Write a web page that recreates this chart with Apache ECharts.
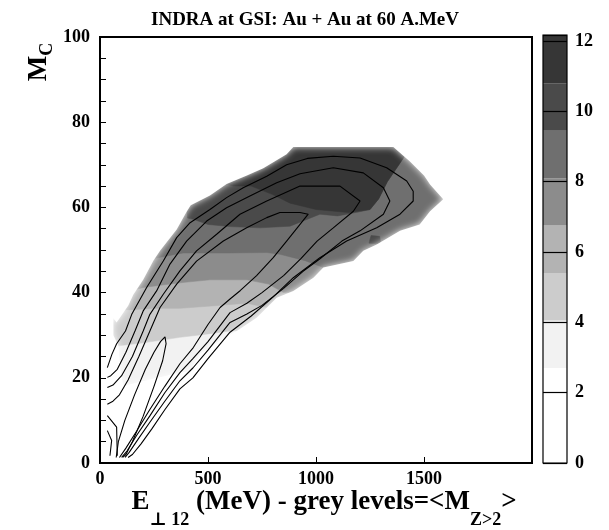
<!DOCTYPE html>
<html><head><meta charset="utf-8">
<script src="https://cdn.jsdelivr.net/npm/echarts@6/dist/echarts.min.js"></script>
<style>html,body{margin:0;padding:0;background:#fff}#c{width:609px;height:530px}</style>
</head><body><div id="c"></div>
<script>
// ---------- data (E in MeV, Mc) ----------
const titleText = 'INDRA at GSI: Au + Au at 60 A.MeV';
const xTickLabels = [0, 500, 1000, 1500];
const yTickLabels = [0, 20, 40, 60, 80, 100];
const cbTickLabels = [0, 2, 4, 6, 8, 10, 12];

// colour levels of <M Z>2>
const levelEdges = [0, 1.35, 2.7, 4.05, 5.4, 6.75, 8.1, 9.45, 10.8, 12.17];
const levelColors = ['#ffffff', '#ffffff', '#f2f2f2', '#cccccc', '#b3b3b3', '#8c8c8c', '#6f6f6f', '#4a4a4a', '#363636'];

// outer edge of the populated (grey) region
const envelope = [[62,34],[77,33],[131,37],[154,39.5],[200,43],[247,47.5],[278,49.8],[355,54.8],[401,59],[420,60.5],[509,62.8],[586,65.5],[680,67.5],[756,69.2],[864,72.5],[895,74.2],[1358,74.2],[1435,70.8],[1500,67.5],[1528,65.4],[1589,61.9],[1528,59.1],[1480,56],[1389,54.5],[1281,51.3],[1219,49.8],[1173,47.4],[1034,45.9],[988,43.5],[895,40.4],[818,38.8],[725,34.1],[633,31.0],[556,28.7],[463,25.6],[417,21.5],[370,21.2],[250,19.8],[108,18.1],[93,22],[85,27.5],[62,30]];
// lower edges of the grey levels 4.05, 5.4, 6.75, 8.1
const edgeLevel3 = [[0,27.3],[85,27.5],[200,28.2],[370,29.5],[500,30.3],[602,31],[2000,31]];
const edgeLevel4 = [[0,35.8],[140,36],[262,36.3],[370,36.3],[500,36.8],[679,37.5],[771,36.5],[2000,36.5]];
const edgeLevel5 = [[0,40.3],[150,40.5],[200,41.2],[370,42.3],[509,43],[680,43],[780,42],[850,40],[2000,40]];
const edgeLevel6 = [[0,47.5],[250,48],[309,48.6],[385,49.3],[600,49.3],[772,49.4],[833,49],[950,47.5],[1034,45.9],[2000,45.9]];
// closed areas of the two darkest levels
const areaLevel7 = [[405,57.5],[395,63],[500,72],[800,80],[1340,80],[1410,72],[1390,70.5],[1330,66],[1290,62],[1250,59.5],[1204,59],[1100,58],[1018,58.4],[880,55.6],[741,55.2],[600,55.5],[500,56],[432,57.2]];
const areaLevel7b = [[1245,51.6],[1300,51.4],[1295,53.2],[1255,53.4]];
const areaLevel8 = [[586,65.4],[590,80],[1340,80],[1410,72],[1390,70.5],[1330,66],[1290,62],[1250,59.5],[1150,58.8],[1000,59.5],[880,61],[800,63],[700,65],[620,65]];

// iso-count contour lines
const contour1 = [[75,1.3],[85,5],[115,10],[160,16],[210,22],[250,26],[280,28.5],[301,29.6],[306,28],[290,24],[250,18],[200,11],[150,5],[120,2],[105,1.3]];
const contour2 = [[34,13.8],[60,14.5],[90,16],[130,19.5],[180,25],[231,31],[278,36.5],[355,42],[447,47.4],[571,52.1],[679,55.2],[772,57.6],[833,58.8],[926,58.8],[964,58.4],[926,56],[864,52.1],[802,48.2],[725,44],[650,40.5],[602,38.5],[556,36.5],[500,32.5],[432,27.1],[370,23.3],[300,18],[230,12.5],[170,7.5],[120,3.5],[90,1.3]];
const contour3 = [[34,17.7],[60,18.3],[100,20.5],[150,25],[200,31],[231,34.9],[293,39.6],[370,45.1],[447,49.8],[540,53.7],[648,58.4],[772,61.5],[926,65],[1111,65],[1204,61.5],[1173,59.1],[1080,55.2],[1005,52.1],[930,48],[850,44],[750,40],[680,37.5],[602,35.3],[500,28.5],[430,24.5],[370,21.2],[300,16.5],[230,11],[170,6.5],[125,2.8],[100,1.3]];
const contour4 = [[34,20.1],[50,20.5],[80,22],[120,26],[162,31],[200,35.7],[262,40.4],[324,46.7],[401,52.1],[494,56.8],[586,59.9],[694,62.7],[818,65.8],[926,67.9],[1080,69.3],[1219,68.1],[1312,64.6],[1342,61.5],[1312,58.4],[1204,54.5],[1120,52.1],[1020,48],[940,45],[850,41],[750,37],[680,35],[602,33],[500,26.5],[430,22.3],[370,19.3],[300,14.5],[230,9.5],[175,5.5],[135,2.5],[116,1.3]];
const contour5 = [[34,22.4],[55,25.5],[77,28],[118,31],[147,34.9],[216,41.2],[293,47.4],[355,52.9],[417,56.4],[509,59.5],[586,62.3],[663,64.6],[772,67.3],[864,70],[960,71.5],[1080,72],[1204,71.6],[1327,69.3],[1420,66.2],[1450,63.8],[1450,61.5],[1389,58.4],[1281,55.2],[1142,52.1],[1018,48.2],[895,43.5],[802,39],[700,34.5],[602,30.7],[500,24.5],[430,20],[370,17.4],[300,12.5],[240,8],[190,4.5],[150,2],[130,1.3]];
const contourA = [[34,11.1],[77,8.4],[80,1.7]];
const contourB = [[34,7.6],[54,5.3],[46,1.7]];

// ---------- chart ----------
const SERIF = '"Liberation Serif","DejaVu Serif","Times New Roman",serif';
const chart = echarts.init(document.getElementById('c'), null, {renderer: 'canvas'});

const layers = [
  {pts: envelope, color: levelColors[2]},
  {pts: edgeLevel3.concat([[2000,100],[0,100]]), color: levelColors[3]},
  {pts: edgeLevel4.concat([[2000,100],[0,100]]), color: levelColors[4]},
  {pts: edgeLevel5.concat([[2000,100],[0,100]]), color: levelColors[5]},
  {pts: edgeLevel6.concat([[2000,100],[0,100]]), color: levelColors[6]},
  {pts: areaLevel7, color: levelColors[7]},
  {pts: areaLevel7b, color: levelColors[7]},
  {pts: areaLevel8, color: levelColors[8]}
];

function toPx(api, pts) { return pts.map(p => api.coord(p)); }
function signedArea(p) {
  let s = 0;
  for (let i = 0; i < p.length; i++) { const a = p[i], b = p[(i + 1) % p.length]; s += a[0] * b[1] - b[0] * a[1]; }
  return s;
}

const lineCommon = {type: 'line', symbol: 'none', smooth: false, silent: true, z: 5,
  lineStyle: {color: '#000', width: 1.1}, xAxisIndex: 0, yAxisIndex: 0, animation: false};
const contours = [contour1, contour2, contour3, contour4, contour5, contourA, contourB];

const cbBands = levelColors.map((c, i) => [levelEdges[i], levelEdges[i + 1]]);
const labelFont = {color: '#000', fontFamily: SERIF, fontWeight: 'bold', fontSize: 18};
function richName(subLine) {
  return {
    b: {fontFamily: SERIF, fontWeight: 'bold', fontSize: 27, lineHeight: 27, verticalAlign: 'top', fill: '#000'},
    s: {fontFamily: SERIF, fontWeight: 'bold', fontSize: 18, lineHeight: subLine, verticalAlign: 'bottom', fill: '#000'}
  };
}

const option = {
  animation: false,
  backgroundColor: '#fff',
  title: {text: titleText, left: 300, top: 6, textAlign: 'center',
    textStyle: {fontFamily: SERIF, fontWeight: 'bold', fontSize: 19, color: '#000'}},
  grid: [
    {left: 100, top: 37, width: 432, height: 426, show: true, borderColor: '#000', borderWidth: 2,
      backgroundColor: 'transparent', z: 10, outerBoundsMode: 'none', containLabel: false},
    {left: 543, top: 35, width: 24, height: 428, show: true, borderColor: '#000', borderWidth: 1.2,
      backgroundColor: 'transparent', z: 10, outerBoundsMode: 'none', containLabel: false}
  ],
  xAxis: [
    {type: 'value', gridIndex: 0, min: 0, max: 2000, interval: 500, z: 10,
      axisLine: {show: true, lineStyle: {color: '#000', width: 2}},
      axisTick: {show: true, inside: true, length: 6, lineStyle: {color: '#000', width: 1}},
      splitLine: {show: false},
      axisLabel: Object.assign({show: true, margin: 7,
        formatter: v => xTickLabels.indexOf(v) >= 0 ? String(v) : ''}, labelFont)},
    {type: 'value', gridIndex: 1, min: 0, max: 1, show: false}
  ],
  yAxis: [
    {type: 'value', gridIndex: 0, min: 0, max: 100, interval: 20, z: 10,
      axisLine: {show: true, lineStyle: {color: '#000', width: 2}},
      axisTick: {show: true, inside: true, length: 6, lineStyle: {color: '#000', width: 1}},
      minorTick: {show: true, splitNumber: 4, length: 6, lineStyle: {color: '#000', width: 1}},
      splitLine: {show: false},
      axisLabel: Object.assign({show: true, margin: 10,
        formatter: v => yTickLabels.indexOf(v) >= 0 ? String(v) : ''}, labelFont)},
    {type: 'value', gridIndex: 1, min: 0, max: 12.17, interval: 2, position: 'right', z: 10,
      axisLine: {show: false}, axisTick: {show: false},
      splitLine: {show: true, lineStyle: {color: '#000', width: 1.2}},
      axisLabel: Object.assign({show: true, margin: 8, showMaxLabel: false,
        formatter: v => cbTickLabels.indexOf(v) >= 0 ? String(v) : ''}, labelFont)}
  ],
  graphic: [
    {type: 'text', x: 324, y: 509, z: 20,
      style: {text: '{b|E}{s|⊥ 12}{b| (MeV) - grey levels=<M}{s|Z>2}{b|>}', align: 'center', verticalAlign: 'middle',
        rich: richName(40)}},
    {type: 'text', x: 41, y: 62, rotation: Math.PI / 2, z: 20,
      style: {text: '{b|M}{s|C}', align: 'center', verticalAlign: 'middle', rich: richName(31)}}
  ],
  series: [
    {type: 'custom', xAxisIndex: 0, yAxisIndex: 0, clip: true, silent: true, z: 2,
      data: layers.map((l, i) => [i]).concat([[layers.length]]),
      encode: {x: -1, y: -1},
      renderItem: function (params, api) {
        const i = params.dataIndex;
        if (i < layers.length) {
          return {type: 'polygon', shape: {points: toPx(api, layers[i].pts)},
            style: {fill: layers[i].color, stroke: layers[i].color, lineWidth: 0.5}};
        }
        const a = api.coord([0, 0]), b = api.coord([2000, 100]);
        let env = toPx(api, envelope);
        if (signedArea(env) > 0) env = env.slice().reverse();
        let d = 'M' + a[0] + ' ' + b[1] + ' L' + b[0] + ' ' + b[1] + ' L' + b[0] + ' ' + a[1] + ' L' + a[0] + ' ' + a[1] + ' Z ';
        d += 'M' + env.map(p => p[0].toFixed(2) + ' ' + p[1].toFixed(2)).join(' L') + ' Z';
        return {type: 'path', shape: {pathData: d},
          style: {fill: '#fff', shadowColor: 'rgba(255,255,255,0.9)', shadowBlur: 7}};
      }},
    {type: 'custom', xAxisIndex: 1, yAxisIndex: 1, clip: true, silent: true, z: 2,
      data: cbBands.map((b, i) => [i]),
      encode: {x: -1, y: -1},
      renderItem: function (params, api) {
        const i = params.dataIndex;
        const p0 = api.coord([0, cbBands[i][0]]), p1 = api.coord([1, cbBands[i][1]]);
        return {type: 'rect', shape: {x: p0[0], y: p1[1], width: p1[0] - p0[0], height: p0[1] - p1[1]},
          style: {fill: levelColors[i]}};
      }}
  ].concat(contours.map(c => Object.assign({}, lineCommon, {data: c})))
};
chart.setOption(option);
</script></body></html>
